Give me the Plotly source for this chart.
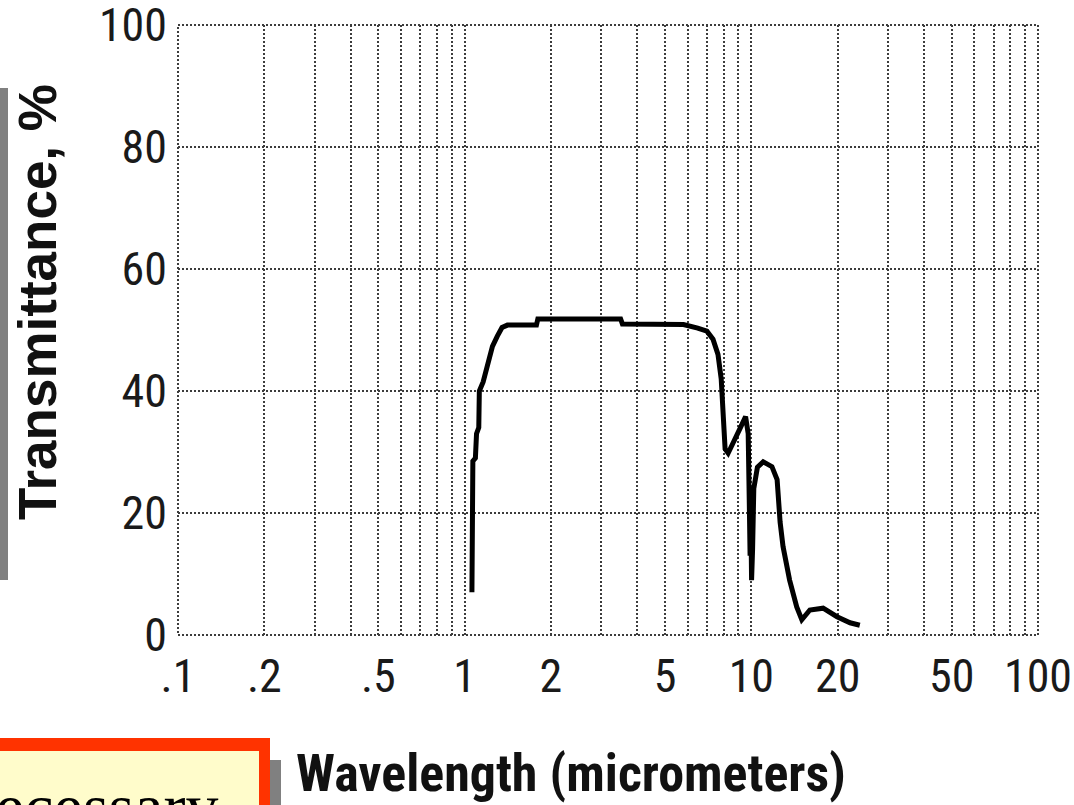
import plotly.graph_objects as go

# ---- data ----
wavelength_um = [1.06, 1.063, 1.068, 1.09, 1.10, 1.12, 1.125, 1.16, 1.20, 1.25, 1.30, 1.35,
                 1.41, 1.78, 1.80, 2.5, 3.5, 3.55, 4.2, 5.0, 5.8, 6.5, 7.0, 7.35, 7.65,
                 7.85, 7.95, 8.1, 8.3, 8.6, 9.1, 9.55, 9.75, 9.85, 9.9, 9.95, 10.02, 10.1,
                 10.2, 10.5, 11.0, 11.8, 12.3, 12.6, 12.9, 13.6, 14.4, 15.0, 16.0, 17.8,
                 19.9, 22.1, 23.9]
transmittance_pct = [7, 20, 28.5, 29, 33, 34, 40, 41.5, 44.5, 47.3, 49, 50.4,
                     50.8, 50.8, 51.8, 51.9, 51.8, 51.0, 51.0, 51.0, 50.9, 50.3, 49.8, 48.5, 46,
                     42, 37, 30.5, 29.8, 31.5, 33.7, 35.8, 33, 20, 13, 22, 9, 14,
                     24, 27.5, 28.4, 27.6, 25.5, 18.5, 14.5, 9, 4.6, 2.5, 4.1, 4.4,
                     3, 2, 1.6]

x_tick_values = [0.1, 0.2, 0.3, 0.4, 0.5, 0.6, 0.7, 0.8, 0.9,
                 1, 2, 3, 4, 5, 6, 7, 8, 9,
                 10, 20, 30, 40, 50, 60, 70, 80, 90, 100]
x_tick_labels = [".1", ".2", "", "", ".5", "", "", "", "",
                 "1", "2", "", "", "5", "", "", "", "",
                 "10", "20", "", "", "50", "", "", "", "", "100"]
y_tick_values = [0, 20, 40, 60, 80, 100]
y_tick_labels = ["0", "20", "40", "60", "80", "100"]

# ---- layout geometry (pixels) ----
W, H = 1074, 805
L, R, T, B = 178, 36, 25, 170
PW, PH = W - L - R, H - T - B


def px_x(p):
    return (p - L) / PW


def px_y(p):
    return (H - B - p) / PH


narrow = "Roboto Condensed, Liberation Sans Narrow, DejaVu Sans Condensed, sans-serif"
grid = dict(showgrid=True, gridcolor="#3c3c3c", gridwidth=2, griddash="2px,2px",
            zeroline=False, showline=False, ticks="", ticklabeloverflow="allow",
            automargin=False)

fig = go.Figure()
fig.add_trace(go.Scatter(x=wavelength_um, y=transmittance_pct, mode="lines",
                         line=dict(color="black", width=5), hoverinfo="skip",
                         showlegend=False))

fig.update_layout(
    width=W, height=H, autosize=False,
    margin=dict(l=L, r=R, t=T, b=B, pad=0, autoexpand=False),
    paper_bgcolor="white", plot_bgcolor="white",
    xaxis=dict(type="log", range=[-1, 2], tickmode="array",
               tickvals=x_tick_values, ticktext=x_tick_labels,
               tickfont=dict(family=narrow, size=46, color="#1a1a1a"),
               ticklabelstandoff=10, **grid),
    yaxis=dict(range=[0, 100], tickmode="array",
               tickvals=y_tick_values, ticktext=y_tick_labels,
               tickfont=dict(family=narrow, size=46, color="#1a1a1a"),
               ticklabelstandoff=10, **grid),
)

shapes = [
    # dotted frame of the plot area
    dict(type="rect", xref="paper", yref="paper", x0=0, x1=1, y0=0, y1=1,
         line=dict(color="#3c3c3c", width=2, dash="2px,2px"), layer="below"),
    # gray bar on the left edge
    dict(type="rect", xref="paper", yref="paper", x0=px_x(-2), x1=px_x(8),
         y0=px_y(580), y1=px_y(88), fillcolor="#808080", line=dict(width=0)),
    # shadow of the callout box
    dict(type="rect", xref="paper", yref="paper", x0=px_x(270), x1=px_x(281),
         y0=px_y(815), y1=px_y(760), fillcolor="#808080", line=dict(width=0)),
    # red border of the callout box
    dict(type="rect", xref="paper", yref="paper", x0=px_x(-10), x1=px_x(270),
         y0=px_y(815), y1=px_y(738), fillcolor="#FF3300", line=dict(width=0)),
    # yellow inside
    dict(type="rect", xref="paper", yref="paper", x0=px_x(-10), x1=px_x(259),
         y0=px_y(815), y1=px_y(751), fillcolor="#FFFCCB", line=dict(width=0)),
]
fig.update_layout(shapes=shapes)

fig.add_annotation(text="Transmittance, %", textangle=-90, showarrow=False,
                   xref="paper", yref="paper", x=px_x(37), y=px_y(302),
                   xanchor="center", yanchor="middle",
                   font=dict(family="Liberation Sans, Arial, sans-serif", size=53,
                             color="#111111", weight="bold"))
fig.add_annotation(text="Wavelength (micrometers)", showarrow=False,
                   xref="paper", yref="paper", x=px_x(571), y=px_y(773),
                   xanchor="center", yanchor="middle",
                   font=dict(family=narrow, size=52, color="#111111", weight="bold"))
fig.add_annotation(text="necessary", showarrow=False,
                   xref="paper", yref="paper", x=px_x(221), y=px_y(806),
                   xanchor="right", yanchor="middle",
                   font=dict(family="Liberation Serif, Times New Roman, serif", size=66,
                             color="black"))

fig.write_html("out.html", config={"displayModeBar": False},
               post_script="document.body.style.margin='0';")
